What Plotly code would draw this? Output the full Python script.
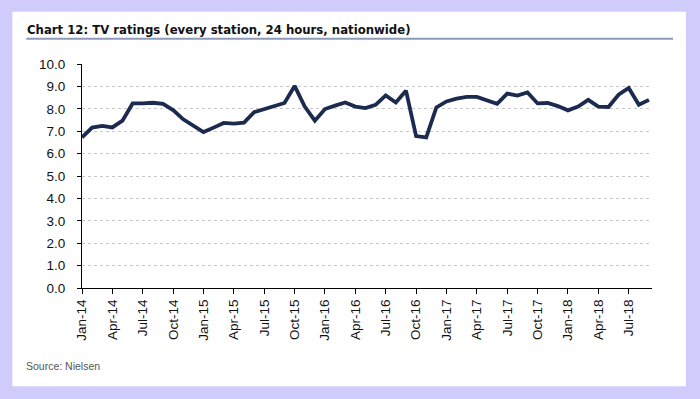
import plotly.graph_objects as go

months = [
    "Jan-14", "Feb-14", "Mar-14", "Apr-14", "May-14", "Jun-14", "Jul-14", "Aug-14", "Sep-14", "Oct-14", "Nov-14", "Dec-14",
    "Jan-15", "Feb-15", "Mar-15", "Apr-15", "May-15", "Jun-15", "Jul-15", "Aug-15", "Sep-15", "Oct-15", "Nov-15", "Dec-15",
    "Jan-16", "Feb-16", "Mar-16", "Apr-16", "May-16", "Jun-16", "Jul-16", "Aug-16", "Sep-16", "Oct-16", "Nov-16", "Dec-16",
    "Jan-17", "Feb-17", "Mar-17", "Apr-17", "May-17", "Jun-17", "Jul-17", "Aug-17", "Sep-17", "Oct-17", "Nov-17", "Dec-17",
    "Jan-18", "Feb-18", "Mar-18", "Apr-18", "May-18", "Jun-18", "Jul-18", "Aug-18", "Sep-18",
]

ratings = [
    6.72, 7.16, 7.24, 7.17, 7.47, 8.24, 8.24, 8.27, 8.22, 7.94, 7.53, 7.22,
    6.96, 7.16, 7.37, 7.34, 7.38, 7.85, 8.00, 8.13, 8.26, 9.02, 8.10, 7.47,
    7.99, 8.14, 8.28, 8.10, 8.03, 8.18, 8.60, 8.28, 8.81, 6.78, 6.72, 8.06,
    8.33, 8.45, 8.53, 8.53, 8.37, 8.22, 8.68, 8.59, 8.73, 8.24, 8.26, 8.12,
    7.93, 8.10, 8.40, 8.10, 8.08, 8.63, 8.93, 8.18, 8.40,
]

tick_labels = months[::3]
y_ticks = [0, 1, 2, 3, 4, 5, 6, 7, 8, 9, 10]

title_text = "Chart 12: TV ratings (every station, 24 hours, nationwide)"
source_text = "Source: Nielsen"

W, H = 700, 399
PL, PR = 81.67, 652.0   # plot area left/right (px)
PT, PB = 64.3, 288.0    # plot area top/bottom (px)


def px_x(p):
    return (p - PL) / (PR - PL)


def px_y(p):
    return (PB - p) / (PB - PT)


fig = go.Figure()
fig.add_trace(go.Scatter(
    x=months, y=ratings, mode="lines",
    line=dict(color="#1B2A4E", width=3.8),
    hoverinfo="skip", showlegend=False,
))

axis_font = dict(family="Liberation Sans, Arial, sans-serif", size=13.5, color="#111111")
cond_font = "DejaVu Sans Condensed, Liberation Sans Narrow, sans-serif"

fig.update_layout(
    width=W, height=H,
    margin=dict(l=PL, r=W - PR, t=PT, b=H - PB, pad=0),
    paper_bgcolor="#CFCCFC",
    plot_bgcolor="white",
    showlegend=False,
    xaxis=dict(
        type="category",
        range=[0, len(months) - 1 + 0.3],
        tickmode="array", tickvals=tick_labels, ticktext=tick_labels,
        tickangle=-90,
        ticks="outside", ticklen=5, tickcolor="#000000", tickwidth=1,
        showline=True, linecolor="#000000", linewidth=1.2,
        showgrid=False, zeroline=False,
        tickfont=axis_font,
    ),
    yaxis=dict(
        range=[0, 10],
        tickmode="array", tickvals=y_ticks,
        tickformat=".1f",
        ticks="outside", ticklen=4, tickcolor="#000000", tickwidth=1,
        showline=True, linecolor="#000000", linewidth=1.2,
        showgrid=True, gridcolor="#C8C8C8", gridwidth=1, griddash="dot",
        zeroline=False,
        ticklabelstandoff=9,
        tickfont=axis_font,
    ),
    shapes=[
        dict(type="rect", xref="paper", yref="paper", layer="below",
             x0=px_x(12), x1=px_x(686), y0=px_y(386), y1=px_y(12),
             fillcolor="white", line=dict(width=0)),
        dict(type="line", xref="paper", yref="paper",
             x0=px_x(26), x1=px_x(673), y0=px_y(39), y1=px_y(39),
             line=dict(color="#8C9BB4", width=2)),
    ],
    annotations=[
        dict(text="<b>" + title_text + "</b>", xref="paper", yref="paper",
             x=px_x(25), y=px_y(30), xanchor="left", yanchor="middle",
             showarrow=False,
             font=dict(family=cond_font, size=13, color="#111111")),
        dict(text=source_text, xref="paper", yref="paper",
             x=px_x(24), y=px_y(366), xanchor="left", yanchor="middle",
             showarrow=False,
             font=dict(family="Liberation Sans, Arial, sans-serif", size=10.5, color="#555555")),
    ],
)

fig.write_html("out.html", config={"displayModeBar": False},
               post_script="document.body.style.margin='0';document.body.style.overflow='hidden';")
